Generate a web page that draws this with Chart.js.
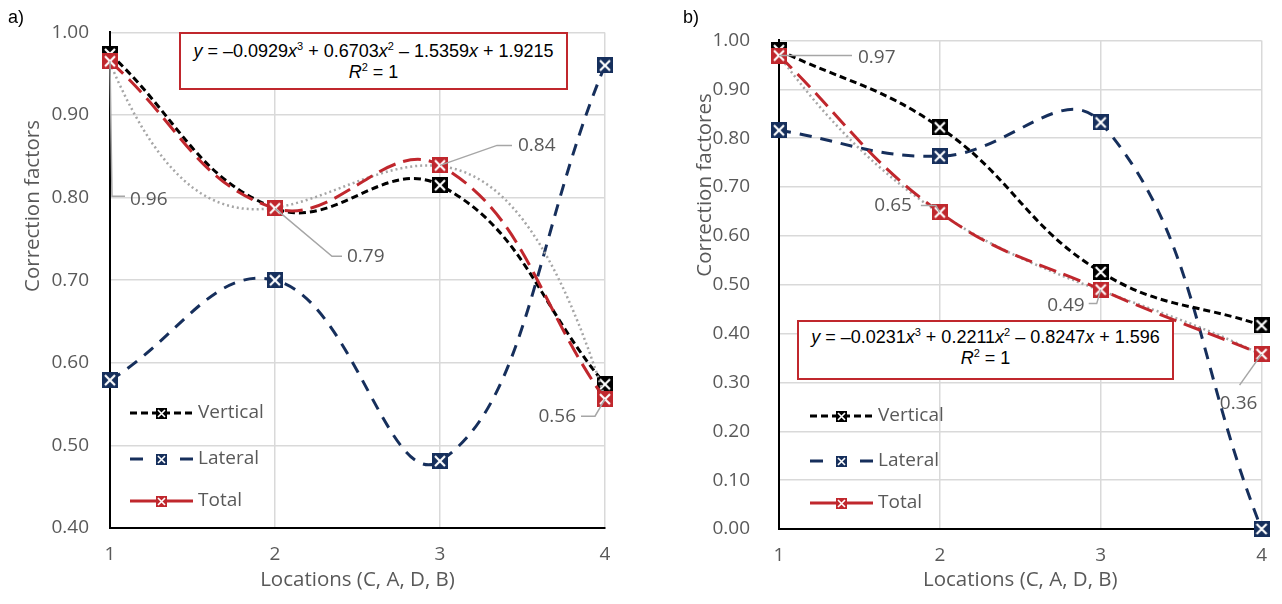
<!DOCTYPE html>
<html>
<head>
<meta charset="utf-8">
<script src="https://cdn.jsdelivr.net/npm/chart.js@4.4.0/dist/chart.umd.min.js"></script>
<style>
html, body { margin: 0; padding: 0; background: #fff; }
#wrap { position: relative; width: 1282px; height: 604px; overflow: hidden; font-family: "Open Sans", sans-serif; }
canvas { position: absolute; top: 0; }
#chartA { left: 0; }
#chartB { left: 640px; }
.panel { position: absolute; font: 18px "Liberation Sans", Arial, sans-serif; color: #000; }
.ytitle { position: absolute; transform: translate(-50%, -50%) rotate(-90deg); white-space: nowrap; font-size: 20.5px; color: #595959; }
.eq { position: absolute; box-sizing: border-box; border: 2px solid #c0272d; background: #fff; text-align: center;
      font: 18px "Liberation Sans", Arial, sans-serif; line-height: 21px; color: #000; }
.eq sup { font-size: 11px; line-height: 0; vertical-align: 7px; }
</style>
</head>
<body>
<div id="wrap">
  <canvas id="chartA" width="640" height="604"></canvas>
  <canvas id="chartB" width="642" height="604"></canvas>
  <div class="panel" style="left:8px;top:7px">a)</div>
  <div class="panel" style="left:683px;top:7px">b)</div>
  <div class="ytitle" style="left:31px;top:206px">Correction factors</div>
  <div class="ytitle" style="left:703px;top:185px">Correction factores</div>
  <div class="eq" style="left:179px;top:32px;width:389px;height:58px;padding-top:7px">
    <div><i>y</i> = –0.0929<i>x</i><sup>3</sup> + 0.6703<i>x</i><sup>2</sup> – 1.5359<i>x</i> + 1.9215</div>
    <div><i>R</i><sup>2</sup> = 1</div>
  </div>
  <div class="eq" style="left:797px;top:320px;width:377px;height:60px;padding-top:5px">
    <div><i>y</i> = –0.0231<i>x</i><sup>3</sup> + 0.2211<i>x</i><sup>2</sup> – 0.8247<i>x</i> + 1.596</div>
    <div><i>R</i><sup>2</sup> = 1</div>
  </div>
</div>
<script>
// data
const locations = [1, 2, 3, 4];

const verticalA = [0.974, 0.787, 0.815, 0.574];
const lateralA = [0.579, 0.700, 0.481, 0.960];
const totalA = [0.965, 0.787, 0.839, 0.556];
const totalLabelsA = ['0.96', '0.79', '0.84', '0.56'];
const trendCoefA = [-0.0929, 0.6703, -1.5359, 1.9215];

const verticalB = [0.980, 0.822, 0.526, 0.417];
const lateralB = [0.816, 0.763, 0.832, 0.000];
const totalB = [0.969, 0.648, 0.490, 0.358];
const totalLabelsB = ['0.97', '0.65', '0.49', '0.36'];
const trendCoefB = [-0.0231, 0.2211, -0.8247, 1.596];

const seriesNames = ['Vertical', 'Lateral', 'Total'];

const BLACK = '#000000';
const NAVY = '#162f5c';
const RED = '#c0272d';
const GREY = '#595959';

Chart.defaults.font.family = '"Open Sans", sans-serif';
Chart.defaults.color = GREY;

// square marker with a white cross
function makeMarker(color, size) {
    const c = document.createElement('canvas');
    c.width = size;
    c.height = size;
    const g = c.getContext('2d');
    g.fillStyle = color;
    g.fillRect(0, 0, size, size);
    g.strokeStyle = '#fff';
    g.lineWidth = size > 12 ? 2.2 : 1.6;
    const m = size > 12 ? 3 : 2;
    g.beginPath();
    g.moveTo(m, m); g.lineTo(size - m, size - m);
    g.moveTo(size - m, m); g.lineTo(m, size - m);
    g.stroke();
    return c;
}

const markers = { v: makeMarker(BLACK, 16), l: makeMarker(NAVY, 16), t: makeMarker(RED, 16) };
const smallMarkers = { v: makeMarker(BLACK, 11), l: makeMarker(NAVY, 11), t: makeMarker(RED, 11) };

function toPoints(vals) {
    return locations.map((x, i) => ({ x: x, y: vals[i] }));
}

// polynomial trendline from the printed equation
function trendPoints(coef) {
    const pts = [];
    for (let k = 0; k <= 60; k++) {
        const x = 1 + k * 0.05;
        pts.push({ x: x, y: ((coef[0] * x + coef[1]) * x + coef[2]) * x + coef[3] });
    }
    return pts;
}

// legend drawn inside the plot, bottom left
const panelLegend = {
    id: 'panelLegend',
    afterDatasetsDraw(chart, args, opts) {
        const ctx = chart.ctx;
        const a = chart.chartArea;
        ctx.save();
        opts.rows.forEach((r, i) => {
            const y = a.bottom - r.dy;
            const x0 = a.left + opts.x;
            const x1 = x0 + 63;
            ctx.strokeStyle = r.color;
            ctx.lineWidth = 3;
            ctx.setLineDash(r.dash);
            ctx.beginPath();
            ctx.moveTo(x0, y);
            ctx.lineTo(x1, y);
            ctx.stroke();
            ctx.setLineDash([]);
            ctx.drawImage(r.marker, Math.round((x0 + x1) / 2 - r.marker.width / 2), Math.round(y - r.marker.height / 2));
            ctx.fillStyle = GREY;
            ctx.font = '19px "Open Sans"';
            ctx.textAlign = 'left';
            ctx.textBaseline = 'middle';
            ctx.fillText(seriesNames[i], x1 + 5, y);
        });
        ctx.restore();
    }
};

// value labels with leader lines
const leaderLabels = {
    id: 'leaderLabels',
    afterDatasetsDraw(chart, args, opts) {
        const ctx = chart.ctx;
        const meta = chart.getDatasetMeta(opts.dataset);
        ctx.save();
        opts.items.forEach(it => {
            const p = meta.data[it.i];
            ctx.strokeStyle = '#a6a6a6';
            ctx.lineWidth = 1.5;
            ctx.beginPath();
            ctx.moveTo(p.x, p.y);
            it.path.forEach(d => ctx.lineTo(p.x + d[0], p.y + d[1]));
            ctx.stroke();
            ctx.fillStyle = GREY;
            ctx.font = '19px "Open Sans"';
            ctx.textAlign = it.align;
            ctx.textBaseline = 'middle';
            ctx.fillText(opts.texts[it.i], p.x + it.tx, p.y + it.ty);
        });
        ctx.restore();
    }
};

function buildPanel(id, vals, p) {
    const lineBase = { tension: 0.42, borderWidth: 3, pointRadius: 8, clip: false, fill: false };
    return new Chart(document.getElementById(id), {
        type: 'line',
        data: {
            datasets: [
                Object.assign({}, lineBase, { label: 'Total', data: toPoints(vals.total), borderColor: RED, borderDash: [18, 8], pointStyle: markers.t, order: 0 }),
                { label: 'Trend', data: trendPoints(vals.trend), borderColor: '#a6a6a6', borderWidth: 2.5, borderDash: [2, 3], pointRadius: 0, tension: 0, order: 1 },
                Object.assign({}, lineBase, { label: 'Vertical', data: toPoints(vals.vertical), borderColor: BLACK, borderDash: [7, 4], pointStyle: markers.v, order: 2 }),
                Object.assign({}, lineBase, { label: 'Lateral', data: toPoints(vals.lateral), borderColor: NAVY, borderDash: [12, 9], pointStyle: markers.l, order: 3 })
            ]
        },
        options: {
            responsive: false,
            animation: false,
            layout: { padding: { top: p.top, right: p.right, left: 0, bottom: 0 } },
            scales: {
                x: {
                    type: 'linear',
                    min: 1,
                    max: 4,
                    ticks: { stepSize: 1, padding: 15, color: GREY, font: { size: 19 } },
                    grid: { color: '#d9d9d9', lineWidth: 1.5, drawTicks: false },
                    border: { color: BLACK, width: 2 },
                    title: { display: true, text: 'Locations (C, A, D, B)', color: GREY, font: { size: 20.5 }, padding: { top: 0, bottom: 12 } },
                    afterFit: s => { s.height = p.xHeight; }
                },
                y: {
                    min: p.yMin,
                    max: 1,
                    ticks: { stepSize: 0.1, padding: p.tickPad, color: GREY, font: { size: 19 }, callback: v => v.toFixed(2) },
                    grid: { color: '#d9d9d9', lineWidth: 1.5, drawTicks: false },
                    border: { color: BLACK, width: 2 },
                    afterFit: s => { s.width = p.yWidth; }
                }
            },
            plugins: {
                legend: { display: false },
                tooltip: { enabled: false },
                panelLegend: {
                    x: p.legendX,
                    rows: [
                        { dy: p.rows[0], color: BLACK, dash: [7, 4], marker: smallMarkers.v },
                        { dy: p.rows[1], color: NAVY, dash: [13, 37], marker: smallMarkers.l },
                        { dy: p.rows[2], color: RED, dash: [], marker: smallMarkers.t }
                    ]
                },
                leaderLabels: { dataset: 0, texts: vals.labels, items: p.labels }
            }
        },
        plugins: [panelLegend, leaderLabels]
    });
}

buildPanel('chartA',
    { vertical: verticalA, lateral: lateralA, total: totalA, trend: trendCoefA, labels: totalLabelsA },
    {
        top: 17, right: 35, xHeight: 76, yWidth: 110, yMin: 0.4, tickPad: 21,
        legendX: 20, rows: [115, 69, 27],
        labels: [
            { i: 0, path: [[2, 135], [15, 135]], tx: 20, ty: 138, align: 'left' },
            { i: 1, path: [[57, 48], [67, 48]], tx: 72, ty: 48, align: 'left' },
            { i: 2, path: [[57, -20], [72, -20]], tx: 78, ty: -20, align: 'left' },
            { i: 3, path: [[-10, 17], [-24, 17]], tx: -29, ty: 17, align: 'right' }
        ]
    });

buildPanel('chartB',
    { vertical: verticalB, lateral: lateralB, total: totalB, trend: trendCoefB, labels: totalLabelsB },
    {
        top: 23, right: 11, xHeight: 75, yWidth: 139, yMin: 0, tickPad: 29,
        legendX: 31, rows: [113, 68, 26],
        labels: [
            { i: 0, path: [[73, 0]], tx: 79, ty: 2, align: 'left' },
            { i: 1, path: [[-4, -7], [-19, -7]], tx: -28, ty: -7, align: 'right' },
            { i: 2, path: [[-4, 14], [-12, 14]], tx: -16, ty: 16, align: 'right' },
            { i: 3, path: [[-22, 31]], tx: -23, ty: 50, align: 'center' }
        ]
    });
</script>
</body>
</html>
